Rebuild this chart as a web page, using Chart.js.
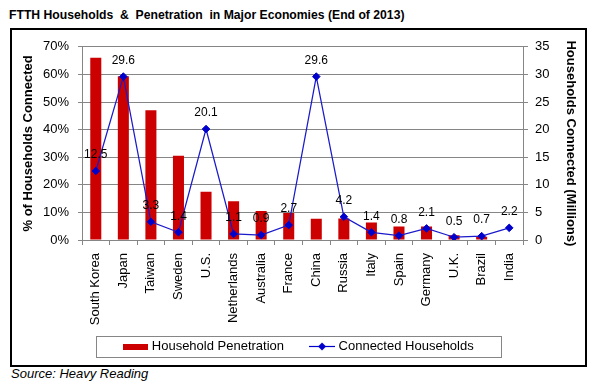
<!DOCTYPE html>
<html><head><meta charset="utf-8">
<script src="https://cdn.jsdelivr.net/npm/chart.js@4/dist/chart.umd.min.js"></script>
<style>
html,body{margin:0;padding:0;background:#fff;}
body{width:597px;height:386px;position:relative;overflow:hidden;font-family:'Liberation Sans',Arial,sans-serif;}
#title{position:absolute;left:9px;top:8px;font-weight:bold;font-size:12.2px;line-height:15px;white-space:pre;color:#000;}
#box{position:absolute;left:10px;top:28px;width:573px;height:335px;border:2px solid #000;}
#box canvas{display:block;}
#source{position:absolute;left:11px;top:366px;font-style:italic;font-size:13px;line-height:15px;color:#000;}
</style></head><body>
<div id="title">FTTH Households  &amp;  Penetration  in Major Economies (End of 2013)</div>
<div id="box"><canvas id="c" width="573" height="335"></canvas></div>
<div id="source">Source: Heavy Reading</div>
<script>
const categories = ['South Korea','Japan','Taiwan','Sweden','U.S.','Netherlands','Australia','France','China','Russia','Italy','Spain','Germany','U.K.','Brazil','India'];
const penetration = [0.66, 0.593, 0.47, 0.305, 0.175, 0.14, 0.105, 0.098, 0.077, 0.078, 0.063, 0.049, 0.049, 0.017, 0.012, 0.0];
const households = [12.5, 29.6, 3.3, 1.4, 20.1, 1.1, 0.9, 2.7, 29.6, 4.2, 1.4, 0.8, 2.1, 0.5, 0.7, 2.2];
const seriesNames = ['Household Penetration', 'Connected Households'];
const axisTitles = ['% of Households Connected', 'Households Connected (Millions)'];

const FONT = "'Liberation Sans', Arial, sans-serif";
const GRID = '#868686';
const RED = '#CC0000';
const BLUE = '#0000CC';

Chart.defaults.font.family = FONT;
Chart.defaults.color = '#000';

// legend swatches
const swBar = document.createElement('canvas');
swBar.width = 25; swBar.height = 7;
(function(){ const g = swBar.getContext('2d'); g.fillStyle = RED; g.fillRect(0,1,25,6); })();
const swLine = document.createElement('canvas');
swLine.width = 26; swLine.height = 9;
(function(){ const g = swLine.getContext('2d');
  g.strokeStyle = BLUE; g.lineWidth = 1.2; g.beginPath(); g.moveTo(0,4.5); g.lineTo(26,4.5); g.stroke();
  g.fillStyle = BLUE; g.beginPath(); g.moveTo(13,0.5); g.lineTo(17,4.5); g.lineTo(13,8.5); g.lineTo(9,4.5); g.closePath(); g.fill();
})();

const lineLabels = {
  id: 'lineLabels',
  afterDatasetsDraw(chart) {
    const meta = chart.getDatasetMeta(1);
    const ctx = chart.ctx;
    ctx.save();
    ctx.font = "12px " + FONT;
    ctx.fillStyle = '#000';
    ctx.textAlign = 'center';
    ctx.textBaseline = 'middle';
    meta.data.forEach((pt, i) => {
      ctx.fillText(households[i].toFixed(1), pt.x, pt.y - 16);
    });
    ctx.restore();
  }
};

// pull the legend up into the empty band below the rotated category labels
const legendShift = {
  id: 'legendShift',
  afterLayout(chart) {
    const lg = chart.legend;
    if (!lg) return;
    lg.top -= 14;
    lg.bottom -= 14;
  }
};

const legendBorder = {
  id: 'legendBorder',
  afterDraw(chart) {
    const hb = chart.legend && chart.legend.legendHitBoxes;
    if (!hb || !hb.length) return;
    let l = Infinity, r = -Infinity, t = Infinity, b = -Infinity;
    hb.forEach(h => { l = Math.min(l, h.left); r = Math.max(r, h.left + h.width); t = Math.min(t, h.top); b = Math.max(b, h.top + h.height); });
    const ctx = chart.ctx;
    ctx.save();
    ctx.strokeStyle = GRID;
    ctx.lineWidth = 1;
    ctx.strokeRect(Math.round(l - 29) + 0.5, Math.round(t - 4) + 0.5, Math.round(r - l + 57), Math.round(b - t + 8));
    ctx.restore();
  }
};

new Chart(document.getElementById('c'), {
  data: {
    labels: categories,
    datasets: [
      {
        type: 'bar',
        label: seriesNames[0],
        data: penetration,
        backgroundColor: RED,
        borderWidth: 0,
        barPercentage: 0.4,
        categoryPercentage: 1,
        yAxisID: 'y',
        order: 1
      },
      {
        type: 'line',
        label: seriesNames[1],
        data: households,
        borderColor: '#1a1acc',
        borderWidth: 1.25,
        pointStyle: 'rectRot',
        pointRadius: 3.8,
        pointBackgroundColor: BLUE,
        pointBorderColor: BLUE,
        pointBorderWidth: 1,
        tension: 0,
        yAxisID: 'y1',
        order: 0
      }
    ]
  },
  options: {
    responsive: false,
    animation: false,
    devicePixelRatio: 1,
    layout: { padding: { left: 5, right: 3, top: 11, bottom: -12 } },
    plugins: {
      tooltip: { enabled: false },
      title: { display: false },
      legend: {
        position: 'bottom',
        labels: {
          usePointStyle: true,
          pointStyleWidth: 20,
          padding: 28,
          font: { size: 13 },
          color: '#000',
          sort: (a, b) => a.datasetIndex - b.datasetIndex,
          generateLabels(chart) {
            const items = Chart.defaults.plugins.legend.labels.generateLabels(chart);
            items.forEach(it => { it.pointStyle = it.datasetIndex === 0 ? swBar : swLine; });
            return items;
          }
        }
      }
    },
    scales: {
      x: {
        offset: true,
        grid: { display: true, drawOnChartArea: false, drawTicks: true, tickLength: 5, color: GRID, offset: true },
        border: { color: GRID },
        ticks: { font: { size: 13 }, color: '#000', minRotation: 90, maxRotation: 90, autoSkip: false, padding: 8 },
        afterFit(s) { s.height = 86; }
      },
      y: {
        position: 'left',
        min: 0, max: 0.7,
        ticks: { stepSize: 0.1, font: { size: 13 }, color: '#000', padding: 9,
          callback: v => Math.round(v * 100) + '%' },
        grid: { color: GRID, tickLength: 4 },
        border: { color: GRID },
        title: { display: true, text: axisTitles[0], font: { size: 13, weight: 'bold' }, color: '#000', padding: { top: 4, bottom: 0 } },
        afterFit(s) { s.width = 65; }
      },
      y1: {
        position: 'right',
        min: 0, max: 35,
        ticks: { stepSize: 5, font: { size: 13 }, color: '#000', padding: 7 },
        grid: { drawOnChartArea: false, color: GRID, tickLength: 5 },
        border: { color: GRID },
        title: { display: true, text: axisTitles[1], font: { size: 13, weight: 'bold' }, color: '#000', padding: { top: 4, bottom: 0 } },
        afterFit(s) { s.width = 59; }
      }
    }
  },
  plugins: [lineLabels, legendShift, legendBorder]
});
</script>
</body></html>
